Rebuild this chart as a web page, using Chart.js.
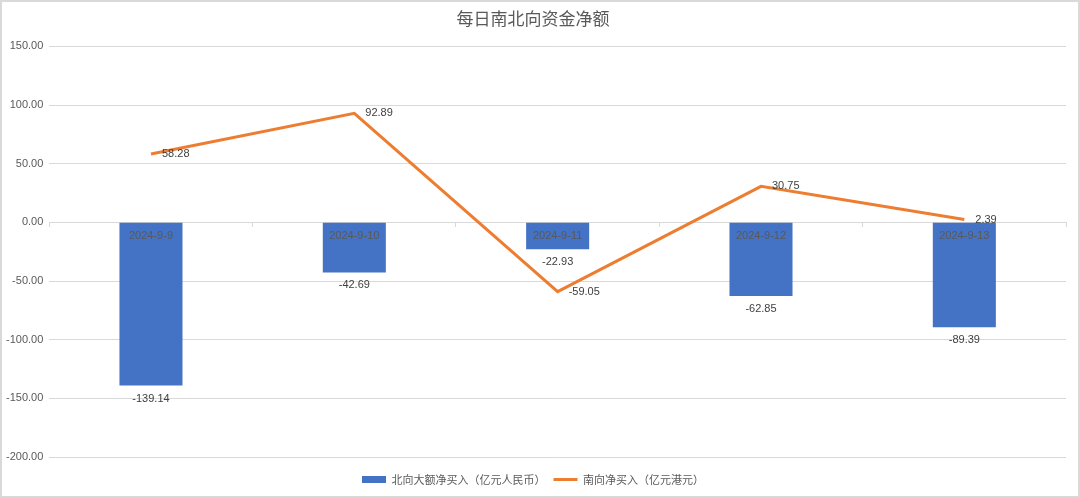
<!DOCTYPE html>
<html>
<head>
<meta charset="utf-8">
<script src="https://cdn.jsdelivr.net/npm/chart.js@4.4.1/dist/chart.umd.min.js"></script>
<style>
  html, body { margin:0; padding:0; background:#fff; }
  #wrap { width:1080px; height:498px; position:relative; }
</style>
</head>
<body>
<div id="wrap"><canvas id="flowChart"></canvas></div>
<script>
const dates = ['2024-9-9', '2024-9-10', '2024-9-11', '2024-9-12', '2024-9-13'];
const northBig = [-139.14, -42.69, -22.93, -62.85, -89.39];
const southNet = [58.28, 92.89, -59.05, 30.75, 2.39];
const yTicks = [150, 100, 50, 0, -50, -100, -150, -200];

const latin = "'Liberation Sans', Arial, sans-serif";
const cjk = "'Noto Sans CJK SC', 'Liberation Sans', sans-serif";

// white background + thin frame like the exported picture
const frame = {
  id: 'frame',
  beforeDraw(chart) {
    const c = chart.ctx;
    c.save();
    c.fillStyle = '#fff';
    c.fillRect(0, 0, chart.width, chart.height);
    c.strokeStyle = '#d9d9d9';
    c.lineWidth = 2;
    c.strokeRect(1, 1, chart.width - 2, chart.height - 2);
    c.restore();
  }
};

// category names sit just under the zero line, over the bars;
// value labels go under bar ends and right of line points
const valueLabels = {
  id: 'valueLabels',
  afterDatasetsDraw(chart) {
    const c = chart.ctx;
    const xs = chart.scales.x, zero = chart.scales.y.getPixelForValue(0);
    c.save();
    c.font = '11px ' + latin;
    c.textBaseline = 'middle';
    c.textAlign = 'center';
    c.fillStyle = '#595959';
    dates.forEach((d, i) => c.fillText(d, xs.getPixelForValue(i), zero + 14));
    c.fillStyle = '#404040';
    chart.getDatasetMeta(0).data.forEach((bar, i) => {
      c.textAlign = 'center';
      c.fillText(northBig[i].toFixed(2), bar.x, bar.y + 13);
    });
    chart.getDatasetMeta(1).data.forEach((pt, i) => {
      c.textAlign = 'left';
      c.fillText(southNet[i].toFixed(2), pt.x + 11, pt.y);
    });
    c.restore();
  }
};

new Chart(document.getElementById('flowChart'), {
  data: {
    labels: dates,
    datasets: [
      { type: 'bar', label: '北向大额净买入（亿元人民币）', data: northBig, backgroundColor: '#4472c4',
        borderWidth: 0, barPercentage: 0.31, categoryPercentage: 1, order: 2, pointStyle: 'rect' },
      { type: 'line', label: '南向净买入（亿元港元）', data: southNet, borderColor: '#ed7d31', backgroundColor: '#ed7d31',
        borderWidth: 3, pointRadius: 0, tension: 0, order: 1, pointStyle: 'line' }
    ]
  },
  options: {
    responsive: true,
    maintainAspectRatio: false,
    animation: false,
    layout: { padding: { left: 0, right: 14, top: 0, bottom: 3 } },
    plugins: {
      title: { display: true, text: '每日南北向资金净额', color: '#595959',
        font: { family: cjk, size: 17, weight: 'normal' }, padding: { top: 8, bottom: 18 } },
      legend: { position: 'bottom',
        // empty title only used as spacer between plot and legend
        title: { display: true, text: ' ', font: { size: 1, lineHeight: 1 }, padding: { top: 8, bottom: 0 } },
        labels: { usePointStyle: true, pointStyleWidth: 24, boxHeight: 7, color: '#595959',
          font: { family: cjk, size: 11 }, padding: 8,
          sort: (a, b) => a.datasetIndex - b.datasetIndex } },
      tooltip: { enabled: false }
    },
    scales: {
      x: {
        position: { y: 0 },
        z: 1,
        offset: true,
        grid: { display: true, offset: true, drawOnChartArea: false, drawTicks: true, tickLength: 4, color: '#d9d9d9' },
        border: { color: '#d9d9d9' },
        ticks: { display: false }
      },
      y: {
        min: -200, max: 150,
        afterBuildTicks(axis) { axis.ticks = yTicks.map(v => ({ value: v })); },
        grid: { color: '#d9d9d9', drawTicks: false },
        border: { display: false },
        ticks: { color: '#595959', font: { family: latin, size: 11 }, padding: 6,
          callback: v => v.toFixed(2) }
      }
    }
  },
  plugins: [frame, valueLabels]
});
</script>
</body>
</html>
